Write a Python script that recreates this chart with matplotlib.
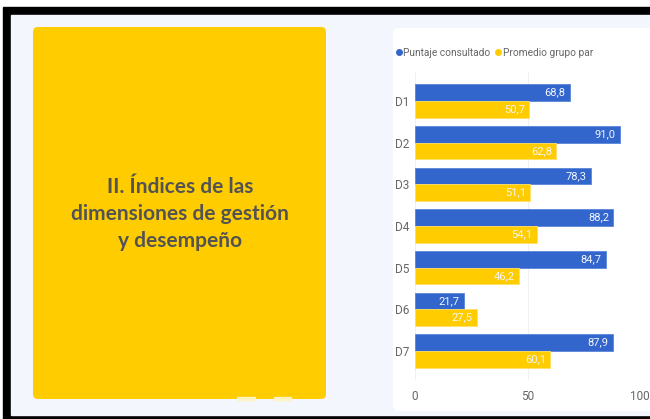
import matplotlib.pyplot as plt
from matplotlib.patches import FancyBboxPatch, Rectangle
from matplotlib.lines import Line2D
from matplotlib import font_manager

# data
dimensions = ["D1", "D2", "D3", "D4", "D5", "D6", "D7"]
puntaje_consultado = [68.8, 91.0, 78.3, 88.2, 84.7, 21.7, 87.9]
promedio_grupo_par = [50.7, 62.8, 51.1, 54.1, 46.2, 27.5, 60.1]
x_ticks = [0, 50, 100]
title_lines = ["II. Índices de las", "dimensiones de gestión", "y desempeño"]

BLUE = "#3366CC"
YELLOW = "#FFCC00"
BG = "#F3F6FD"
TEXT_GRAY = "#666666"

installed = {f.name for f in font_manager.fontManager.ttflist}
narrow = "Liberation Sans Narrow" if "Liberation Sans Narrow" in installed else "Roboto"
plt.rcParams["font.family"] = [narrow, "DejaVu Sans"]


def fmt(v):
    return f"{v:.1f}".replace(".", ",")


W, H = 650, 419
fig = plt.figure(figsize=(W / 100, H / 100), dpi=100)

# background layer in pixel coordinates
bg = fig.add_axes([0, 0, 1, 1])
bg.set_xlim(0, W)
bg.set_ylim(H, 0)
bg.axis("off")
bg.add_patch(Rectangle((0, 0), W, H, color="white"))
bg.add_patch(Rectangle((3, 7), W + 10, H, color="black"))
bg.add_patch(Rectangle((11, 15), W + 10, 400, color=BG))

bg.add_patch(FancyBboxPatch((33, 27), 293, 372,
                            boxstyle="round,pad=0,rounding_size=5",
                            facecolor=YELLOW, edgecolor="none"))
# small notches on the lower edge of the yellow panel
for nx, nw in ((237, 18), (274, 17)):
    bg.add_patch(Rectangle((nx, 397), nw, 3, color="#FFF3C4"))
bg.add_patch(FancyBboxPatch((393, 28), 280, 383,
                            boxstyle="round,pad=0,rounding_size=6",
                            facecolor="white", edgecolor="none"))

for i, line in enumerate(title_lines):
    bg.text(180, 193 + i * 27, line, ha="center", va="baseline",
            fontsize=15, fontweight="bold", color="#535353",
            family=["Lato", "DejaVu Sans"])

# chart axes
ax = fig.add_axes([415 / W, (H - 380) / H, 225 / W, 308 / H])
ax.set_facecolor("none")
pos = list(range(len(dimensions)))
h = 0.4
blue_bars = ax.barh([p - h / 2 for p in pos], puntaje_consultado, height=h,
                    color=BLUE, edgecolor="#5A85D9", linewidth=0.6)
yellow_bars = ax.barh([p + h / 2 for p in pos], promedio_grupo_par, height=h,
                      color=YELLOW, edgecolor="#FFE066", linewidth=0.6)

for bars, vals in ((blue_bars, puntaje_consultado), (yellow_bars, promedio_grupo_par)):
    for bar, v in zip(bars, vals):
        ax.annotate(fmt(v), (v, bar.get_y() + bar.get_height() / 2),
                    xytext=(-3, 0), textcoords="offset points",
                    ha="right", va="center", fontsize=8, color="#F2F5FB")

ax.set_xlim(0, 100)
ax.set_ylim(6.695, -0.695)
ax.set_xticks(x_ticks)
ax.set_yticks(pos)
ax.set_yticklabels(dimensions)
ax.tick_params(length=0, labelsize=8.5, colors=TEXT_GRAY)
ax.tick_params(axis="x", pad=7)
ax.tick_params(axis="y", pad=4)
ax.grid(axis="x", color="#F0F0F0", linewidth=0.8)
ax.set_axisbelow(True)
for s in ax.spines.values():
    s.set_visible(False)

handles = [
    Line2D([], [], marker="o", linestyle="none", markersize=4,
           markerfacecolor=BLUE, markeredgecolor=BLUE, label="Puntaje consultado"),
    Line2D([], [], marker="o", linestyle="none", markersize=4,
           markerfacecolor=YELLOW, markeredgecolor=YELLOW, label="Promedio grupo par"),
]
leg = fig.legend(handles=handles, loc="center left",
                 bbox_to_anchor=(394 / W, 1 - 53 / H), ncol=2, frameon=False,
                 fontsize=7.3, handletextpad=0.0, columnspacing=0.3,
                 handlelength=0.9, borderaxespad=0, borderpad=0)
for t in leg.get_texts():
    t.set_color(TEXT_GRAY)

fig.savefig("out.png", dpi=100)
